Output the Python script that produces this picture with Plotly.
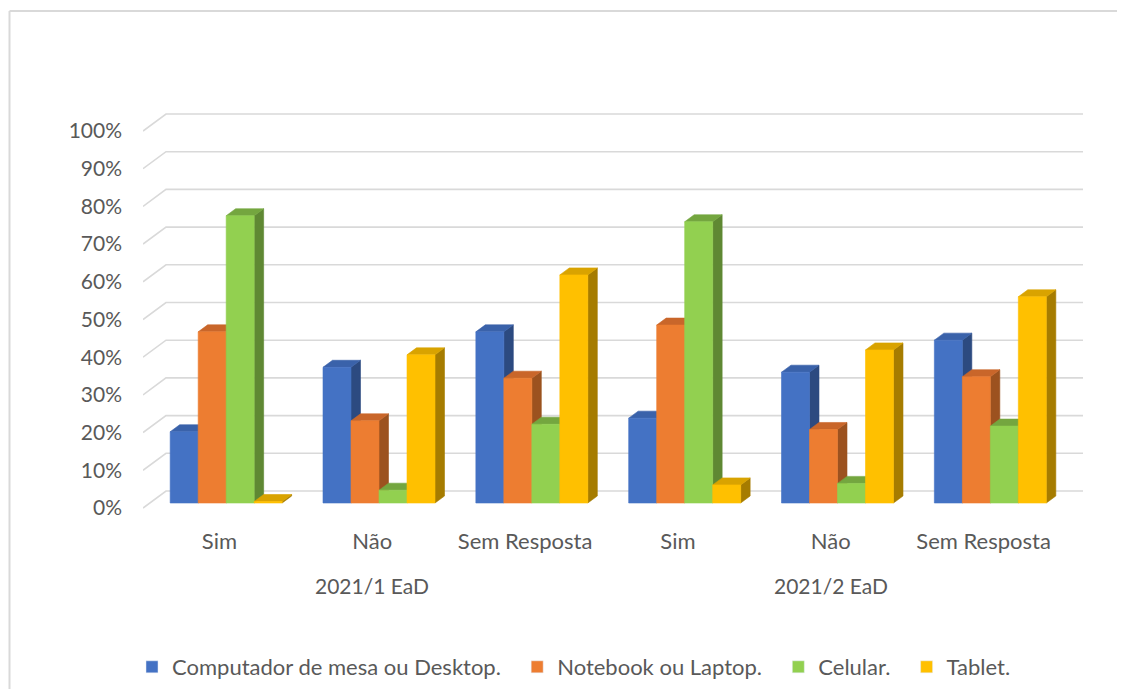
import plotly.graph_objects as go

# ---------------- data ----------------
categories = ["Sim", "Não", "Sem Resposta", "Sim", "Não", "Sem Resposta"]
group_labels = ["2021/1 EaD", "2021/2 EaD"]
series_names = ["Computador de mesa ou Desktop.", "Notebook ou Laptop.", "Celular.", "Tablet."]
desktop = [18.9, 36.0, 45.4, 22.5, 34.7, 43.2]
notebook = [45.4, 21.8, 33.1, 47.2, 19.5, 33.5]
celular = [76.2, 3.4, 20.9, 74.6, 5.2, 20.4]
tablet = [0.4, 39.3, 60.5, 4.8, 40.6, 54.7]
y_ticks = [0, 10, 20, 30, 40, 50, 60, 70, 80, 90, 100]
y_ticktext = [f"{v}%" for v in y_ticks]

series_values = [desktop, notebook, celular, tablet]

# ---------------- style ----------------
front_colors = ["#4472C4", "#ED7D31", "#92D050", "#FFC000"]
top_colors = ["#3A62AA", "#C9662A", "#74A63F", "#D9A300"]
side_colors = ["#2C4A80", "#9C521F", "#5F8833", "#A67C00"]
grid_color = "#D9D9D9"
text_color = "#595959"
FONT = "Lato, Carlito, Calibri, sans-serif"

# 3D projection (data units per full depth)
DX = 0.1505
DY = 4.51
D_FRONT = 0.294
D_BACK = 0.706
BAR_W = 0.1832
n_cat = len(categories)
n_ser = len(series_values)


def P(x, y, d):
    return x + d * DX, y + d * DY


fig = go.Figure()

# back wall gridlines + left-floor diagonals
gx, gy = [], []
for v in y_ticks:
    for (x, y, d) in [(0, v, 0), (0, v, 1), (n_cat, v, 1)]:
        px, py = P(x, y, d)
        gx.append(px)
        gy.append(py)
    gx.append(None)
    gy.append(None)
fig.add_trace(go.Scatter(x=gx, y=gy, mode="lines", line=dict(color=grid_color, width=1.6),
                         hoverinfo="skip", showlegend=False))


def poly_trace(polys, color):
    xs, ys = [], []
    for poly in polys:
        for (x, y, d) in poly + [poly[0]]:
            px, py = P(x, y, d)
            xs.append(px)
            ys.append(py)
        xs.append(None)
        ys.append(None)
    return go.Scatter(x=xs, y=ys, mode="lines", fill="toself", fillcolor=color,
                      line=dict(color=color, width=0.6), hoverinfo="skip", showlegend=False)


group_w = n_ser * BAR_W
for j, vals in enumerate(series_values):
    sides, tops, fronts = [], [], []
    for k, v in enumerate(vals):
        x0 = k + 0.5 - group_w / 2 + j * BAR_W
        x1 = x0 + BAR_W
        sides.append([(x1, 0, D_FRONT), (x1, v, D_FRONT), (x1, v, D_BACK), (x1, 0, D_BACK)])
        tops.append([(x0, v, D_FRONT), (x1, v, D_FRONT), (x1, v, D_BACK), (x0, v, D_BACK)])
        fronts.append([(x0, 0, D_FRONT), (x1, 0, D_FRONT), (x1, v, D_FRONT), (x0, v, D_FRONT)])
    fig.add_trace(poly_trace(sides, side_colors[j]))
    fig.add_trace(poly_trace(tops, top_colors[j]))
    fig.add_trace(poly_trace(fronts, front_colors[j]))

# legend entries
pad = "\u00a0\u00a0"
for j, name in enumerate(series_names):
    label = name + (pad if j < n_ser - 1 else "")
    fig.add_trace(go.Bar(x=[None], y=[None], name=label, marker_color=front_colors[j]))

# geometry (page has an 8px body margin; keep the figure inside the window)
W, H = 1110, 681
ML, MR, MT, MB = 135, 35, 92, 169
px_per_unit = 3.77
FLOOR_PX = 500  # figure pixel of the front floor (value 0)
plot_h = H - MT - MB
y_hi = (FLOOR_PX - MT) / px_per_unit
y_lo = -((H - MB) - FLOOR_PX) / px_per_unit

fig.update_xaxes(type="linear", range=[0, n_cat + DX], tickmode="array",
                 tickvals=[k + 0.5 for k in range(n_cat)], ticktext=categories,
                 showgrid=False, zeroline=False, showline=False, ticks="",
                 ticklabelstandoff=6, fixedrange=True,
                 tickfont=dict(family=FONT, size=22, color=text_color))
fig.update_yaxes(range=[y_lo, y_hi], tickmode="array", tickvals=y_ticks, ticktext=y_ticktext,
                 showgrid=False, zeroline=False, showline=False, ticks="",
                 ticklabelstandoff=20, fixedrange=True,
                 tickfont=dict(family=FONT, size=21, color=text_color))

for g, label in enumerate(group_labels):
    fig.add_annotation(x=1.5 + 3 * g, xref="x", y=(H - MB - 577) / plot_h, yref="paper",
                       text=label, showarrow=False, yanchor="middle",
                       font=dict(family=FONT, size=21, color=text_color))

# chart border (top and left edges; right/bottom fall outside the window)
pw = W - ML - MR
bx0 = (1.5 - ML) / pw
bx1 = (W - 1 - ML) / pw
by0 = (H - MB - H) / plot_h
by1 = (H - MB - 3) / plot_h
for (x0, y0, x1, y1) in [(bx0, by1, bx1, by1), (bx0, by0, bx0, by1)]:
    fig.add_shape(type="line", xref="paper", yref="paper", x0=x0, y0=y0, x1=x1, y1=y1,
                  line=dict(color=grid_color, width=2), layer="below")

fig.update_layout(
    width=W, height=H,
    margin=dict(l=ML, r=MR, t=MT, b=MB),
    paper_bgcolor="white", plot_bgcolor="white",
    font=dict(family=FONT, color=text_color, size=21),
    showlegend=True,
    legend=dict(orientation="h", xref="container", yref="container",
                x=566 / W, xanchor="center", y=1 - 659 / H, yanchor="middle",
                font=dict(family=FONT, size=22, color=text_color),
                itemwidth=30, traceorder="normal"),
)

fig.write_html("out.html")
